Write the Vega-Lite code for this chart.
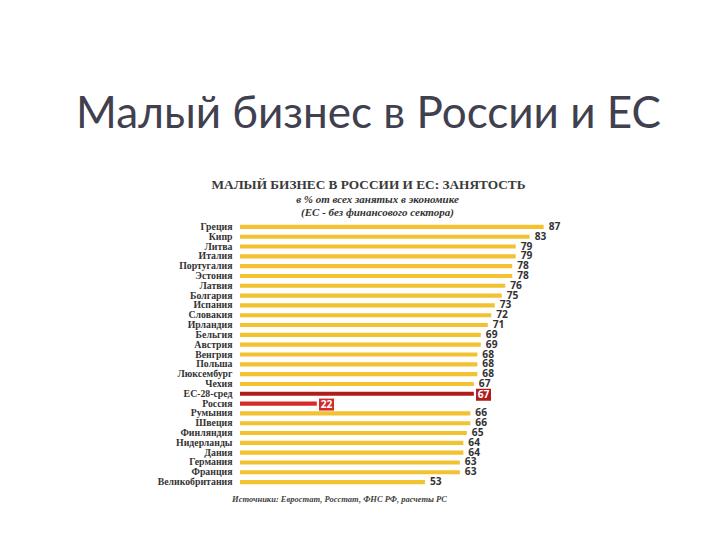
{
  "$schema": "https://vega.github.io/schema/vega-lite/v6.json",
  "autosize": "none",
  "width": 349,
  "height": 265,
  "padding": {"left": 240, "top": 222, "right": 131, "bottom": 53},
  "background": "white",
  "title": {
    "text": "Малый бизнес в России и ЕС",
    "subtitle": "МАЛЫЙ БИЗНЕС В РОССИИ И ЕС: ЗАНЯТОСТЬ",
    "anchor": "middle",
    "frame": "group",
    "dx": -46,
    "font": "Lato",
    "fontSize": 44,
    "fontWeight": "normal",
    "color": "#40404f",
    "subtitleFont": "Liberation Serif",
    "subtitleFontSize": 13.3,
    "subtitleFontWeight": "bold",
    "subtitleColor": "#3a3a3a",
    "subtitlePadding": 41,
    "offset": 2
  },
  "data": {
    "values": [
      {"country": "Греция", "value": 87, "type": "country"},
      {"country": "Кипр", "value": 83, "type": "country"},
      {"country": "Литва", "value": 79, "type": "country"},
      {"country": "Италия", "value": 79, "type": "country"},
      {"country": "Португалия", "value": 78, "type": "country"},
      {"country": "Эстония", "value": 78, "type": "country"},
      {"country": "Латвия", "value": 76, "type": "country"},
      {"country": "Болгария", "value": 75, "type": "country"},
      {"country": "Испания", "value": 73, "type": "country"},
      {"country": "Словакия", "value": 72, "type": "country"},
      {"country": "Ирландия", "value": 71, "type": "country"},
      {"country": "Бельгия", "value": 69, "type": "country"},
      {"country": "Австрия", "value": 69, "type": "country"},
      {"country": "Венгрия", "value": 68, "type": "country"},
      {"country": "Польша", "value": 68, "type": "country"},
      {"country": "Люксембург", "value": 68, "type": "country"},
      {"country": "Чехия", "value": 67, "type": "country"},
      {"country": "ЕС-28-сред", "value": 67, "type": "eu"},
      {"country": "Россия", "value": 22, "type": "ru"},
      {"country": "Румыния", "value": 66, "type": "country"},
      {"country": "Швеция", "value": 66, "type": "country"},
      {"country": "Финляндия", "value": 65, "type": "country"},
      {"country": "Нидерланды", "value": 64, "type": "country"},
      {"country": "Дания", "value": 64, "type": "country"},
      {"country": "Германия", "value": 63, "type": "country"},
      {"country": "Франция", "value": 63, "type": "country"},
      {"country": "Великобритания", "value": 53, "type": "country"}
    ]
  },
  "encoding": {
    "y": {
      "field": "country",
      "type": "nominal",
      "sort": null,
      "scale": {"paddingInner": 0.58, "paddingOuter": 0.29},
      "axis": {
        "title": null,
        "domain": false,
        "ticks": false,
        "labelFont": "Liberation Serif",
        "labelFontWeight": "bold",
        "labelFontSize": 9.8,
        "labelColor": "#333333",
        "labelPadding": 8
      }
    }
  },
  "layer": [
    {
      "mark": {"type": "bar"},
      "encoding": {
        "x": {
          "field": "value",
          "type": "quantitative",
          "scale": {"domain": [0, 100], "nice": false},
          "axis": {
            "orient": "top",
            "title": ["в %  от всех занятых в экономике", "(ЕС - без финансового сектора)"],
            "titleFont": "Liberation Serif",
            "titleFontStyle": "italic",
            "titleFontWeight": "bold",
            "titleFontSize": 11,
            "titleColor": "#333333",
            "titleX": 137,
            "titleY": -20,
            "titleAnchor": "middle",
            "titleAlign": "center",
            "titleBaseline": "alphabetic",
            "titleLineHeight": 13,
            "labels": false,
            "ticks": false,
            "domain": false,
            "grid": false
          }
        },
        "color": {
          "field": "type",
          "type": "nominal",
          "scale": {"domain": ["country", "eu", "ru"], "range": ["#f2c230", "#b01c1c", "#d62a2a"]},
          "legend": null
        }
      }
    },
    {
      "transform": [{"filter": "datum.type != 'country'"}],
      "mark": {"type": "point", "shape": "M-1,-0.8H1V0.8H-1Z", "filled": true, "opacity": 1, "size": 225, "xOffset": 9.7, "yOffset": 1},
      "encoding": {
        "x": {
          "field": "value",
          "type": "quantitative",
          "axis": {
            "orient": "bottom",
            "title": "Источники: Евростат, Росстат, ФНС РФ, расчеты РС",
            "titleFont": "Liberation Serif",
            "titleFontStyle": "italic",
            "titleFontWeight": "bold",
            "titleFontSize": 8.5,
            "titleColor": "#444444",
            "titleX": 99,
            "titleY": 14,
            "titleAnchor": "middle",
            "titleAlign": "center",
            "titleBaseline": "alphabetic",
            "labels": false,
            "ticks": false,
            "domain": false,
            "grid": false
          }
        },
        "color": {"field": "type", "type": "nominal", "legend": null}
      }
    },
    {
      "transform": [{"filter": "datum.type == 'country'"}],
      "mark": {"type": "text", "align": "left", "baseline": "middle", "dx": 5, "font": "Open Sans", "fontWeight": "bold", "fontSize": 10.2, "color": "#333333"},
      "encoding": {
        "x": {"field": "value", "type": "quantitative", "axis": null},
        "text": {"field": "value", "type": "quantitative"}
      }
    },
    {
      "transform": [{"filter": "datum.type != 'country'"}],
      "mark": {"type": "text", "align": "center", "baseline": "middle", "dx": 9.7, "dy": 1, "font": "Open Sans", "fontWeight": "bold", "fontSize": 10.2, "color": "white"},
      "encoding": {
        "x": {"field": "value", "type": "quantitative", "axis": null},
        "text": {"field": "value", "type": "quantitative"}
      }
    }
  ],
  "resolve": {"axis": {"x": "independent"}},
  "config": {"view": {"stroke": null}}
}
